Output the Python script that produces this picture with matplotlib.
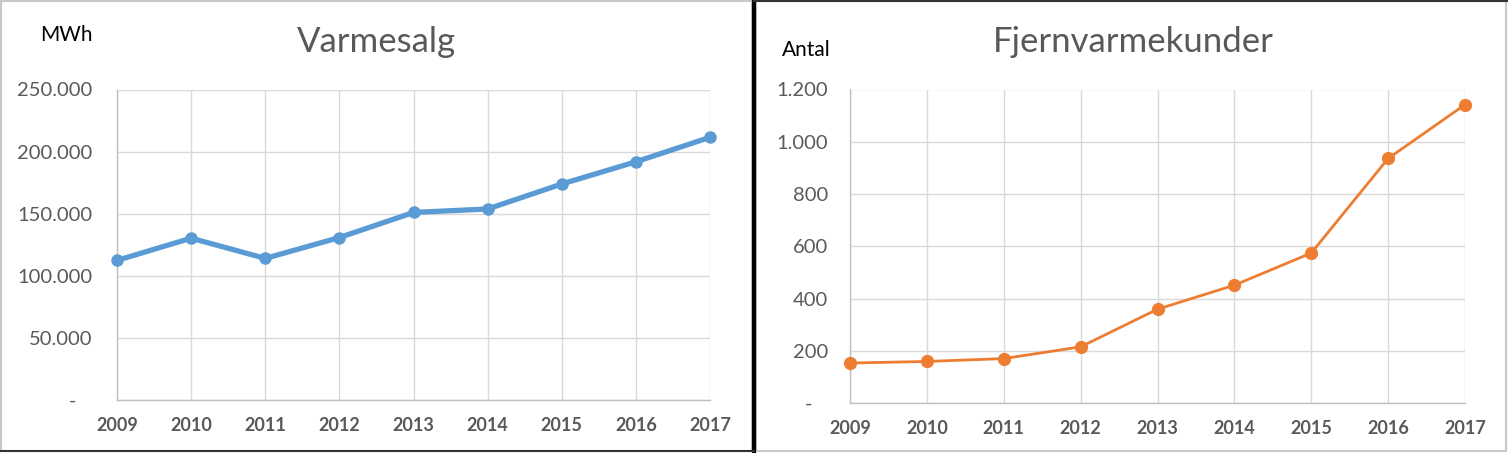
import matplotlib
matplotlib.use("Agg")
import matplotlib.pyplot as plt
from matplotlib.ticker import FuncFormatter, MultipleLocator
from matplotlib.patches import Rectangle
from matplotlib.lines import Line2D

plt.rcParams['font.family'] = ['Lato', 'DejaVu Sans']

years = [2009, 2010, 2011, 2012, 2013, 2014, 2015, 2016, 2017]
varmesalg = [112400, 130300, 114000, 130800, 151000, 153800, 173900, 191800, 211500]
kunder = [153, 159, 170, 215, 359, 451, 574, 936, 1142]

W, H = 1508, 453
DPI = 100
fig = plt.figure(figsize=(W / DPI, H / DPI), dpi=DPI)
fig.patch.set_facecolor('white')

GRID = '#d9d9d9'
TICK = '#595959'


def fx(x):
    return x / W


def fy(y):
    return 1 - y / H


def fmt(v, pos):
    if abs(v) < 1e-9:
        return '-   '
    return f'{int(round(v)):,}'.replace(',', '.')


def style(ax, ymax, ystep, ypad, xpad):
    ax.set_xlim(years[0], years[-1])
    ax.set_ylim(0, ymax)
    ax.yaxis.set_major_locator(MultipleLocator(ystep))
    ax.yaxis.set_major_formatter(FuncFormatter(fmt))
    ax.set_xticks(years)
    ax.set_xticklabels([str(y) for y in years], fontweight='bold')
    ax.grid(True, color=GRID, linewidth=1.0)
    ax.set_axisbelow(True)
    for s in ['top', 'right']:
        ax.spines[s].set_visible(False)
    for s in ['left', 'bottom']:
        ax.spines[s].set_color('#bfbfbf')
        ax.spines[s].set_linewidth(1.0)
    ax.tick_params(axis='both', length=0)
    ax.tick_params(axis='y', labelsize=14.5, labelcolor=TICK, pad=ypad)
    ax.tick_params(axis='x', labelsize=13, labelcolor=TICK, pad=xpad)


ax1 = fig.add_axes([fx(117), fy(400), fx(710 - 117), (400 - 89.5) / H])
ax1.plot(years, varmesalg, color='#5B9BD5', linewidth=3.8, marker='o',
         markersize=8, solid_capstyle='round', solid_joinstyle='round',
         clip_on=False, zorder=3)
style(ax1, 250000, 50000, 18, 12)

ax2 = fig.add_axes([fx(850), fy(403), fx(1465 - 850), (403 - 89.5) / H])
ax2.plot(years, kunder, color='#ED7D31', linewidth=2.0, marker='o',
         markersize=8.5, solid_joinstyle='round', clip_on=False, zorder=3)
style(ax2, 1200, 200, 16, 12)

fig.text(fx(376), fy(42), 'Varmesalg', ha='center', va='center',
         fontsize=25, color=TICK)
fig.text(fx(1133), fy(42), 'Fjernvarmekunder', ha='center', va='center',
         fontsize=25, color=TICK)
fig.text(fx(66), fy(35), 'MWh', ha='center', va='center', fontsize=15,
         color='black')
fig.text(fx(806), fy(50), 'Antal', ha='center', va='center', fontsize=15,
         color='black')

# panel frames
fig.add_artist(Rectangle((fx(1), fy(451)), fx(751), (451 - 1) / H,
                         fill=False, edgecolor='#c8c8c8', linewidth=1.5,
                         transform=fig.transFigure))
fig.add_artist(Rectangle((fx(756), fy(451)), fx(750), (451 - 1) / H,
                         fill=False, edgecolor='#c8c8c8', linewidth=1.5,
                         transform=fig.transFigure))
fig.add_artist(Line2D([fx(754), fx(754)], [0, 1], color='black',
                      linewidth=3.0, transform=fig.transFigure))
fig.add_artist(Line2D([0, fx(754)], [fy(451), fy(451)], color='#333333',
                      linewidth=1.5, transform=fig.transFigure))
fig.add_artist(Line2D([fx(754), 1], [fy(0.7), fy(0.7)], color='#333333',
                      linewidth=1.5, transform=fig.transFigure))

fig.savefig('out.png', dpi=DPI, facecolor='white')
